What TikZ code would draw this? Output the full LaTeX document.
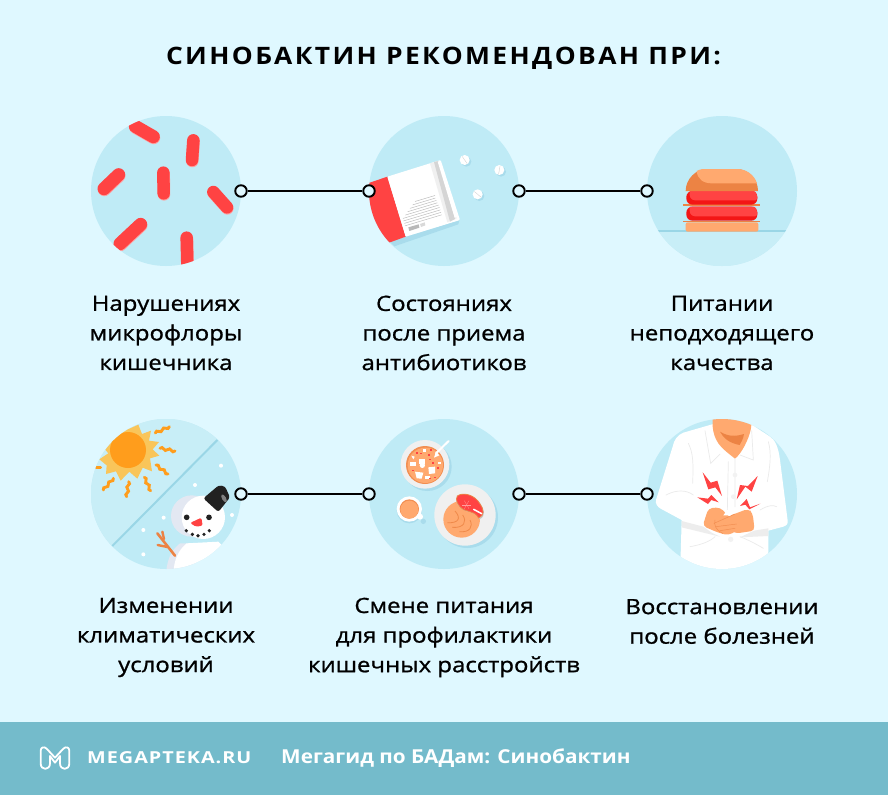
\documentclass[tikz,border=0pt]{standalone}
\usepackage{fontspec}
\setmainfont{Open Sans}[FakeStretch=1.14,FakeBold=1]
\newfontfamily\titlef{Open Sans}[FakeStretch=1.1,LetterSpace=9.9]
\newfontfamily\brandf{Open Sans}[FakeStretch=1.2,LetterSpace=6]
\newfontfamily\footf{Open Sans}[FakeStretch=1.08]
\definecolor{bg}{HTML}{DFF8FF}
\definecolor{disc}{HTML}{BFEBF6}
\definecolor{disclt}{HTML}{C8EEF7}
\definecolor{line}{HTML}{9AD6E6}
\definecolor{shad}{HTML}{A9DCEC}
\definecolor{foot}{HTML}{74BBCB}
\definecolor{rd}{HTML}{FF4343}
\definecolor{drd}{HTML}{F31515}
\definecolor{pale}{HTML}{FF9E9E}
\definecolor{skin}{HTML}{FFA96F}
\definecolor{dskin}{HTML}{EC8344}
\definecolor{sun}{HTML}{F9C55A}
\definecolor{orng}{HTML}{FF9D1C}
\definecolor{plate}{HTML}{F0F0F0}
\definecolor{gry}{HTML}{D5D5D5}
\definecolor{snowsh}{HTML}{E3E8F2}
\tikzset{
  z/.style 2 args={shift={(#1,#2)},x=0.33333pt,y=-0.33333pt},
  ring/.style={circle,draw=black,line width=1.9pt,fill=bg,minimum size=11.5pt,inner sep=0pt},
  conn/.style={draw=black,line width=2pt},
  lbl/.style={align=center,font=\fontsize{21}{29.6}\selectfont,text=black,inner sep=0pt},
  bar/.style={line cap=round,line width=#1},
  wig/.style={draw=orng,line width=2.9pt,line cap=round},
  fing/.style={draw=dskin!70!skin,line width=.5pt,line cap=round},
  fold/.style={draw=black!8,line width=.7pt,line cap=round}
}
\newcommand{\bact}[5]{%
  \draw[pale,bar=#5,shift={(1,3)}] (#1,#2)--(#3,#4);
  \draw[rd,bar=#5] (#1,#2)--(#3,#4);}
\newcommand{\wiggle}[4]{%
  \draw[wig] (#1,#2) .. controls ($($(#1,#2)!.17!(#3,#4)$)!4pt!90:(#3,#4)$) and ($($(#1,#2)!.33!(#3,#4)$)!4pt!-90:(#3,#4)$) .. ($(#1,#2)!.5!(#3,#4)$)
   .. controls ($($(#1,#2)!.67!(#3,#4)$)!4pt!90:(#3,#4)$) and ($($(#1,#2)!.83!(#3,#4)$)!4pt!-90:(#3,#4)$) .. (#3,#4);}
\usetikzlibrary{calc}
\begin{document}
\begin{tikzpicture}[x=1pt,y=-1pt]
\useasboundingbox (0,0) rectangle (888,795);
\fill[bg] (0,0) rectangle (888,795);
\fill[foot] (0,722) rectangle (888,795);
\node[font=\titlef\bfseries\fontsize{24}{28}\selectfont,inner sep=0pt] (title) at (443.5,58.5) {СИНОБАКТИН РЕКОМЕНДОВАН ПРИ:};

% ---------- icon 1: bacteria
\begin{scope}[z={80}{105}]
\fill[disc] (258,258) circle (225);
\begin{scope}
\clip (258,258) circle (225);
\bact{166}{64}{220}{95}{13pt}
\bact{340}{106}{336}{165}{12.5pt}
\bact{250}{203}{251}{265}{12.5pt}
\bact{116}{209}{72}{251}{13pt}
\bact{400}{261}{441}{307}{12.5pt}
\bact{182}{358}{120}{416}{13pt}
\bact{320}{398}{322}{480}{12.5pt}
\end{scope}
\end{scope}

% ---------- icon 2: book
\begin{scope}[z={360}{105}]
\fill[disc] (252,258) circle (225);
\begin{scope}
\clip (252,258) circle (225);
\fill[shad] (90,410) -- (298,345) -- (295,358) -- (103,424) -- cycle;
\fill[rd] (0,243) -- (82,215) -- (137,395) -- (90,412) -- (0,440) -- cycle;
\fill[white,rounded corners=1pt] (82,215) -- (242,165) -- (300,345) -- (137,395) -- cycle;
\fill[plate] (210,175) -- (235,168) -- (290,340) -- (262,352) -- cycle;
\fill[gry] (222,171) -- (235,168) -- (285,342) -- (270,350) -- cycle;
\fill[white] (233,170) -- (240,168) -- (290,335) -- (284,338) -- cycle;
\foreach \i/\a/\b in {0/165/225,1/158/226,2/150/229,3/143/232,4/136/236,5/129/239,6/130/241,7/133/243,8/135/245}{
  \draw[gray!55,line width=.45pt] ($(\a,{300+8*\i-(\a-130)*.3})$) -- ($(\b,{300+8*\i-(\b-130)*.3})$);}
\fill[gray!55] (145,367) -- (176,358) -- (178,368) -- (148,378) -- cycle;
\fill[gray!30] (180,357) -- (194,352) -- (196,361) -- (183,366) -- cycle;
\end{scope}
\foreach \x/\y/\r in {314/165/-55,418/195/80,353/268/-40}{
  \fill[shad] (\x+5,\y+5) circle (15);
  \fill[white] (\x,\y) circle (15);
  \draw[gray!35,line width=.4pt,rotate around={\r:(\x,\y)}] (\x-13,\y) -- (\x+13,\y);}
\end{scope}

% ---------- icon 3: burger
\begin{scope}[z={640}{105}]
\fill[disc] (246,258) circle (225);
\begin{scope}
\clip (246,258) circle (225);
\fill[disclt] (0,378) rectangle (500,500);
\fill[line] (0,375) rectangle (500,381);
\end{scope}
\fill[skin,rounded corners=2pt] (137,352) rectangle (355,380);
\fill[dskin] (130,347) rectangle (360,352);
\fill[drd,rounded corners=6pt] (139,305) rectangle (352,347);
\fill[rd] (150,305) -- (340,305) .. controls (347,305) and (352,315) .. (352,324) .. controls (352,328) and (350,333) .. (346,334) -- (165,334) .. controls (150,334) and (146,318) .. (150,305) -- cycle;
\fill[dskin] (130,298) rectangle (360,304);
\fill[drd,rounded corners=6pt] (139,258) rectangle (352,299);
\fill[rd] (150,258) -- (340,258) .. controls (347,258) and (352,268) .. (352,277) .. controls (352,281) and (350,285) .. (346,286) -- (165,286) .. controls (150,286) and (146,270) .. (150,258) -- cycle;
\fill[dskin] (137,258) .. controls (137,222) and (168,192) .. (200,192) -- (290,192) .. controls (325,192) and (354,222) .. (354,258) -- cycle;
\fill[skin] (170,198) .. controls (180,192) and (190,192) .. (200,192) -- (290,192) .. controls (318,192) and (342,208) .. (351,235) -- (215,235) .. controls (190,235) and (172,222) .. (170,198) -- cycle;
\end{scope}

% ---------- icon 4: climate
\begin{scope}[z={80}{410}]
\fill[disc] (258,252) circle (225);
\begin{scope}
\clip (258,252) circle (225);
\fill[disclt] (412,90) -- (97,408) -- (0,408) -- (0,0) -- (412,0) -- cycle;
\fill[sun] (175,44) -- (186,72) -- (213,62) -- (207,92) -- (237,96) -- (218,118) -- (238,137) -- (210,145) -- (216,184) -- (188,173) -- (172,206) -- (148,185) -- (122,212) -- (108,184) -- (78,192) -- (80,166) -- (58,148) -- (85,130) -- (60,100) -- (90,92) -- (100,50) -- (135,62) -- cycle;
\fill[orng] (144,120) circle (54);
\wiggle{226}{69}{268}{50}
\wiggle{240}{115}{285}{123}
\wiggle{228}{165}{264}{192}
\wiggle{193}{202}{212}{242}
\wiggle{146}{215}{140}{260}
\wiggle{100}{205}{70}{240}
\draw[wig] (48,172) -- (62,172);
\draw[line,line width=2pt] (412,90) -- (97,408);
\foreach \x/\y in {423/167,345/225,456/315,251/323,190/360,190/433}{\fill[white] (\x,\y) circle (6);}
% snowman
\fill[snowsh] (300,400) -- (345,400) -- (345,490) -- (258,490) .. controls (262,445) and (275,420) .. (300,400) -- cycle;
\fill[white] (320,400) -- (415,395) .. controls (440,420) and (470,450) .. (490,490) -- (280,490) .. controls (282,450) and (295,420) .. (320,400) -- cycle;
\fill[snowsh] (335,318) circle (62);
\fill[white] (370,322) circle (65);
\fill[black!87,rounded corners=2.5pt] (370,265) -- (416,226) -- (435,229) -- (450,262) -- (415,306) -- cycle;
\fill[gray,rotate around={-60:(432,265)}] (432,265) ellipse (13 and 6);
\fill[black!87] (320,322) circle (8.5) (387,322) circle (8.5);
\fill[rd,rounded corners=1.5pt] (330,339) -- (364,323) -- (368,347) -- (348,350) -- cycle;
\foreach \x/\y in {319/362,337/373,354/377,372/373,388/362}{\fill[black!87] (\x,\y) circle (5.5);}
\draw[dskin,line width=2.6pt,line cap=round] (285,437) -- (232,370);
\draw[dskin,line width=2.4pt,line cap=round] (252,387) -- (247,365);
\draw[dskin,line width=2.4pt,line cap=round] (262,411) -- (233,405);
\end{scope}
\end{scope}

% ---------- icon 5: food
\begin{scope}[z={360}{410}]
\fill[disc] (252,252) circle (225);
\fill[shad] (202,170) circle (73);
\fill[plate] (195,163) circle (73);
\fill[dskin!70!skin] (195,165) circle (57);
\fill[skin] (196,166) circle (53);
\draw[white,line width=2pt,line cap=round] (228,130) -- (266,93);
\fill[white] (228,124) -- (238,136) -- (222,143) -- cycle;
\fill[white] (178,148) rectangle (195,163);
\fill[white] (150,155) rectangle (168,168);
\fill[white] (154,137) -- (164,140) -- (160,148) -- cycle;
\fill[white] (165,185) -- (190,188) -- (185,206) -- (170,205) -- cycle;
\fill[white] (205,172) -- (225,170) -- (225,190) -- (207,192) -- cycle;
\fill[white] (187,166) circle (8);
\fill[white] (195,198) rectangle (210,207);
\fill[white] (235,155) rectangle (243,163);
\fill[white] (188,118) rectangle (197,127);
\foreach \x/\y in {168/127,180/128,210/118,207/147,215/157,208/203,222/200,155/180,205/133,230/172}{\fill[rd] (\x,\y) rectangle ++(6,4);}
\fill[shad] (148,302) circle (38);
\fill[shad] (190,334) circle (8);
\fill[white] (180,320) circle (9);
\fill[white] (148,297) circle (38);
\fill[dskin!70!skin] (148,297) circle (29);
\fill[skin] (148,299) circle (27);
\fill[shad] (322,322) circle (92);
\fill[plate] (315,315) circle (92);
\fill[skin] (305,328) circle (55);
\draw[dskin!85!skin,line width=.8pt] (285,303) .. controls (305,325) and (295,340) .. (262,338);
\draw[dskin!85!skin,line width=.8pt] (308,315) .. controls (322,335) and (312,355) .. (276,352);
\draw[dskin!85!skin,line width=.8pt] (330,330) .. controls (340,350) and (330,368) .. (298,365);
\fill[gray!45] (292,262) .. controls (310,245) and (345,255) .. (362,282) .. controls (372,298) and (380,318) .. (358,328) .. controls (345,300) and (320,312) .. (300,292) .. controls (290,282) and (286,272) .. (292,262) -- cycle;
\fill[rd,draw=dskin,line width=.8pt] (292,258) .. controls (310,245) and (345,255) .. (360,282) .. controls (372,300) and (374,315) .. (356,324) .. controls (342,298) and (318,310) .. (300,290) .. controls (292,280) and (286,270) .. (292,258) -- cycle;
\foreach \a in {0,60,...,300}{\draw[pale,line width=.25pt] (320,284) -- ++(\a:14);}
\draw[white,line width=1.5pt,line cap=round] (341,298) -- (365,311);
\end{scope}

% ---------- icon 6: man
\begin{scope}[z={640}{410}]
\fill[disc] (246,252) circle (225);
\begin{scope}
\clip (246,252) circle (225);
\fill[white] (220,42) -- (130,68) .. controls (112,75) and (102,90) .. (98,110) -- (48,270) .. controls (46,282) and (52,290) .. (62,296) -- (125,330) -- (120,500) -- (385,500) -- (385,362) -- (430,350) .. controls (440,346) and (444,342) .. (443,332) -- (420,150) .. controls (415,110) and (405,90) .. (390,80) -- (332,42) -- cycle;
\fill[black!7] (125,333) -- (190,350) -- (215,368) -- (240,380) -- (125,352) -- cycle;
\fill[black!7] (342,362) -- (385,355) -- (385,378) -- (300,382) -- cycle;
\fill[skin] (218,0) -- (340,0) -- (332,60) .. controls (325,90) and (305,130) .. (285,146) .. controls (265,130) and (245,115) .. (235,100) .. controls (225,85) and (220,70) .. (218,50) -- cycle;
\fill[dskin] (240,65) .. controls (265,80) and (285,80) .. (312,72) .. controls (310,85) and (305,95) .. (299,105) .. controls (270,100) and (250,85) .. (240,65) -- cycle;
\draw[fold] (195,62) -- (212,160) -- (240,132) (335,62) -- (340,150) -- (300,135);
\draw[fold] (265,155) -- (262,300) (285,146) -- (285,290);
\fill[black!5] (285,195) circle (7) (280,260) circle (7) (272,388) circle (8);
\draw[fold] (145,100) .. controls (160,130) and (160,160) .. (158,220);
\draw[fold] (385,95) .. controls (395,130) and (390,170) .. (382,215);
\draw[fold] (78,255) .. controls (110,238) and (140,240) .. (160,255);
\draw[fold] (360,300) .. controls (385,285) and (400,285) .. (410,290);
\draw[fold] (150,410) .. controls (180,405) and (210,395) .. (225,380);
\draw[fold] (370,415) .. controls (345,400) and (325,390) .. (300,380);
\fill[skin,rounded corners=4pt] (188,348) -- (205,295) -- (240,292) -- (265,318) -- (290,335) -- (290,362) -- (265,376) -- (235,368) -- cycle;
\fill[skin,rounded corners=4pt] (262,320) -- (325,296) -- (338,310) -- (344,362) -- (290,370) -- (260,360) -- cycle;
\draw[fing] (222,340) -- (285,312) (228,350) -- (290,342) (240,362) -- (285,355) (225,330) .. controls (222,345) and (225,358) .. (248,370);
\fill[white] (250,316) -- (262,300) -- (285,300) -- (272,316) -- cycle;
\fill[rd] (188,187) -- (212,218) -- (232,212) -- (246,258) -- (226,232) -- (205,238) -- cycle;
\fill[rd] (353,198) -- (335,245) -- (316,230) -- (290,268) -- (300,225) -- (324,228) -- cycle;
\fill[rd] (172,262) -- (204,266) -- (214,255) -- (236,277) -- (214,270) -- (204,282) -- cycle;
\fill[rd] (361,281) -- (330,292) -- (320,267) -- (300,288) -- (316,284) -- (328,298) -- cycle;
\end{scope}
\end{scope}

% ---------- connectors
\node[ring] (r1) at (241,191) {};
\node[ring] (r2) at (369,191) {};
\node[ring] (r3) at (519,191) {};
\node[ring] (r4) at (647,191) {};
\node[ring] (r5) at (241,494) {};
\node[ring] (r6) at (369,494) {};
\node[ring] (r7) at (519,494) {};
\node[ring] (r8) at (647,494) {};
\draw[conn] (r1) -- (r2);
\draw[conn] (r3) -- (r4);
\draw[conn] (r5) -- (r6);
\draw[conn] (r7) -- (r8);

% ---------- labels
\node[lbl] (t1) at (166,333) {Нарушениях\\микрофлоры\\кишечника};
\node[lbl] (t2) at (444,333) {Состояниях\\после приема\\антибиотиков};
\node[lbl] (t3) at (722,333) {Питании\\неподходящего\\качества};
\node[lbl] (t4) at (166,637.5) {Изменении\\климатических\\условий};
\node[lbl] (t5) at (444,637.5) {Смене питания\\для профилактики\\кишечных расстройств};
\node[lbl] (t6) at (722,621.5) {Восстановлении\\после болезней};

% ---------- footer
\begin{scope}[z={0}{720}]
\draw[white,line width=1.8pt,line cap=round,line join=round]
  (165,113) -- (140,86) .. controls (132,78) and (122,82) .. (122,92) -- (122,130) .. controls (122,152) and (150,152) .. (150,130) -- (150,108) -- (165,128) -- (180,108) -- (180,130) .. controls (180,152) and (208,152) .. (208,130) -- (208,92) .. controls (208,82) and (198,78) .. (190,86) -- cycle;
\end{scope}
\node[anchor=west,text=white,font=\brandf\bfseries\fontsize{16.5}{22}\selectfont,inner sep=0pt] (brand) at (87,758) {MEGAPTEKA.RU};
\node[anchor=west,text=white,font=\footf\bfseries\fontsize{19.2}{24}\selectfont,inner sep=0pt] (ftext) at (281,758) {Мегагид по БАДам: Синобактин};
\end{tikzpicture}
\end{document}
